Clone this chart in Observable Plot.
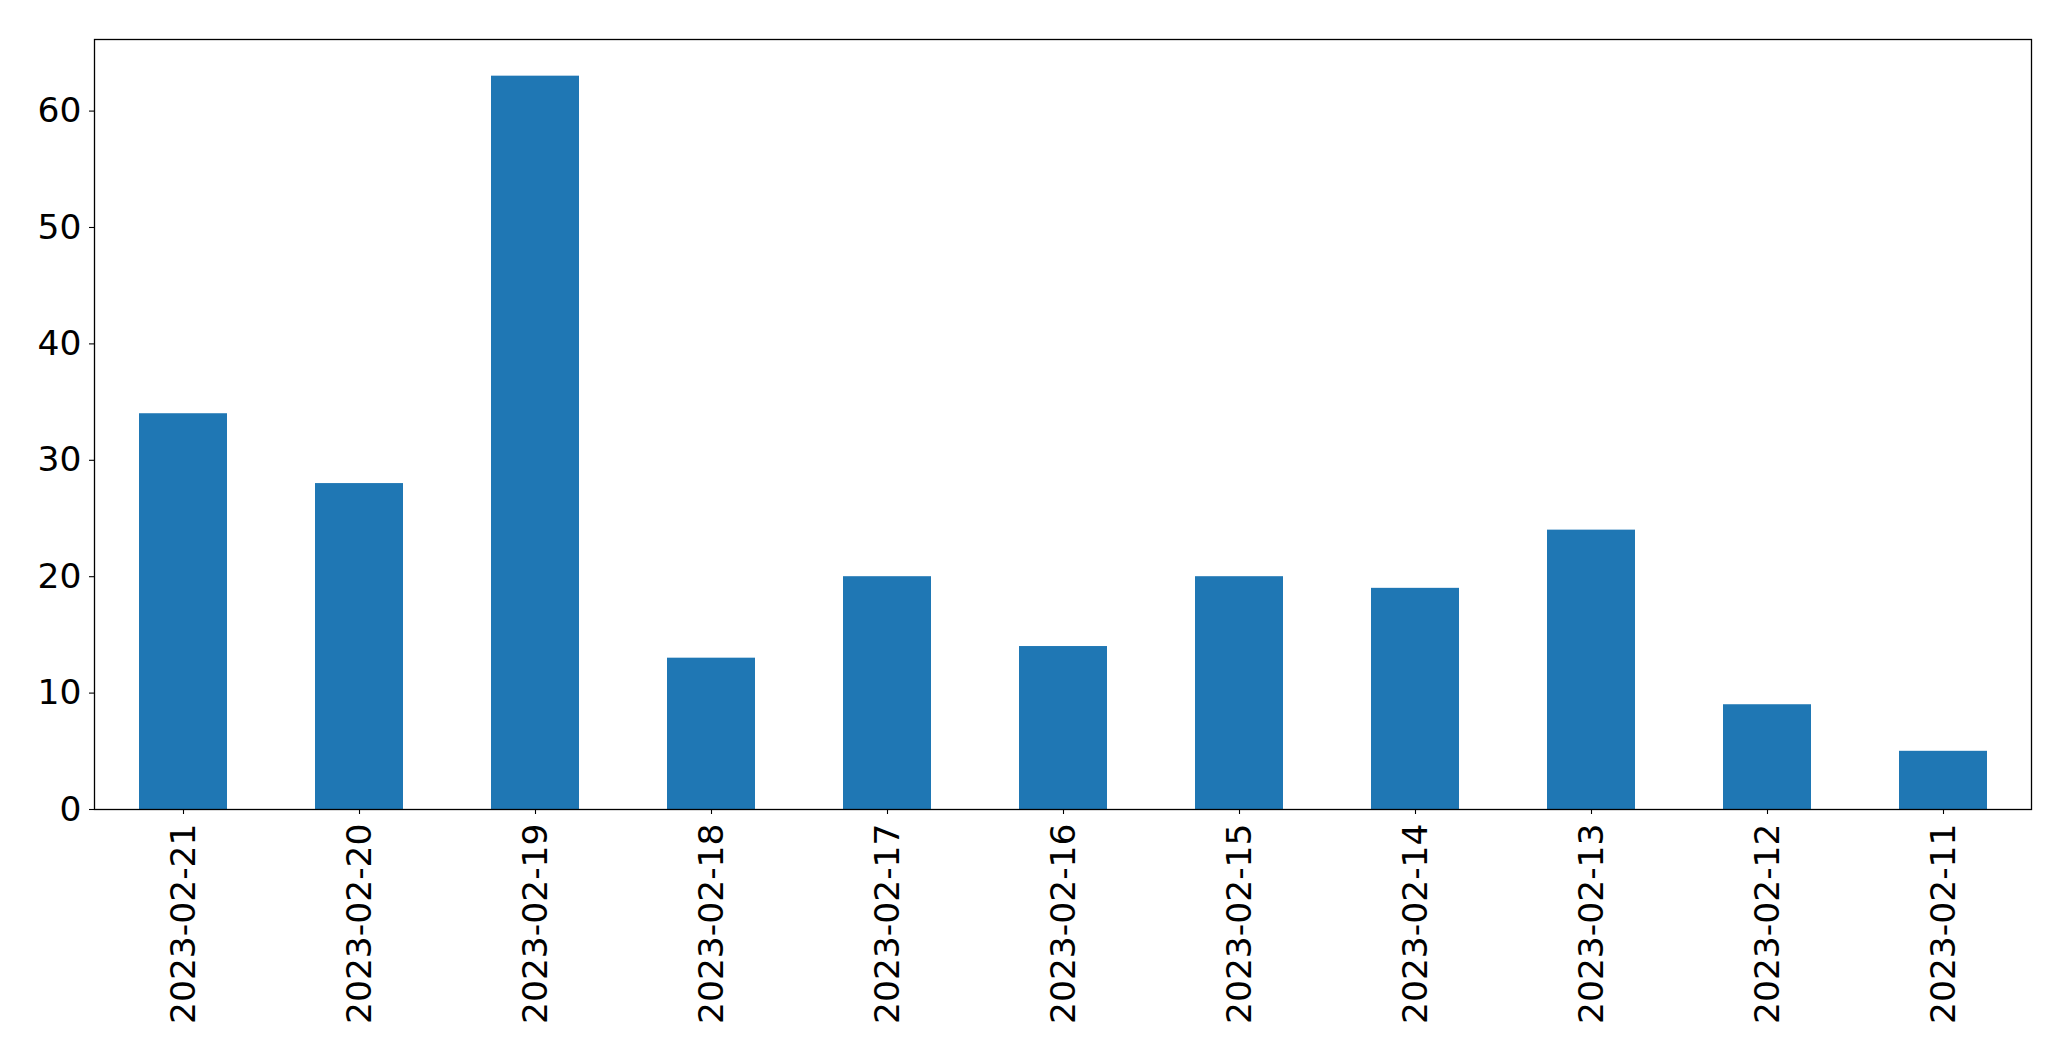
<!DOCTYPE html>
<html>
<head>
<meta charset="utf-8">
<script src="https://cdn.jsdelivr.net/npm/d3@7"></script>
<script src="https://cdn.jsdelivr.net/npm/@observablehq/plot@0.6"></script>
<style>
  html, body { margin: 0; padding: 0; background: #fff; overflow: hidden; }
  #chart svg { display: block; }
</style>
</head>
<body>
<div id="chart"></div>
<script>
const dates = ["2023-02-21","2023-02-20","2023-02-19","2023-02-18","2023-02-17","2023-02-16","2023-02-15","2023-02-14","2023-02-13","2023-02-12","2023-02-11"];
const counts = [34, 28, 63, 13, 20, 14, 20, 19, 24, 9, 5];
const yTicks = [0, 10, 20, 30, 40, 50, 60];

const data = dates.map((d, i) => ({date: d, count: counts[i]}));

const chart = Plot.plot({
  width: 2071,
  height: 1061,
  marginLeft: 94,
  marginRight: 40,
  marginTop: 39,
  marginBottom: 252,
  style: {fontFamily: "'DejaVu Sans', sans-serif", fontSize: "34.5px", color: "#000", background: "#fff"},
  x: {domain: dates, paddingInner: 0.5, paddingOuter: 0.25, label: null},
  y: {domain: [0, 63 * 1.05], label: null},
  marks: [
    Plot.barY(data, {x: "date", y: "count", fill: "#1f77b4"}),
    Plot.axisY({ticks: yTicks, tickSize: 5, tickPadding: 8, fontSize: 34.5, label: null, stroke: "#000", strokeWidth: 1.1}),
    Plot.axisX({tickSize: 5, tickPadding: 9, tickRotate: -90, fontSize: 34.5, label: null, stroke: "#000", strokeWidth: 1.1}),
    Plot.frame({stroke: "#000", strokeWidth: 1.3})
  ]
});
document.getElementById("chart").appendChild(chart);
</script>
</body>
</html>
